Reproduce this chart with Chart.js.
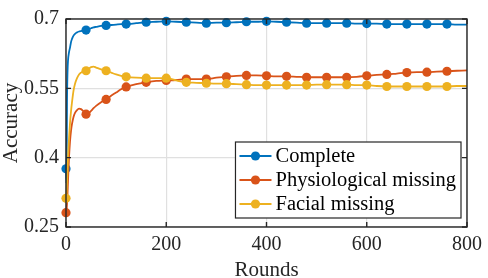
<!DOCTYPE html>
<html>
<head>
<meta charset="utf-8">
<script src="https://cdn.jsdelivr.net/npm/chart.js@4"></script>
<style>
  html, body { margin: 0; padding: 0; background: #fff; }
</style>
</head>
<body>
<canvas id="myChart" width="488" height="278"></canvas>
<script>
const rounds = [0, 1, 2, 3, 4, 6, 8, 10, 12, 15, 18, 22, 26, 30, 35, 40, 45, 50, 55, 60, 70, 80, 90, 100, 110, 120,
  140, 160, 180, 200, 220, 240, 260, 280, 300, 320, 340, 360, 380, 400, 420, 440, 460, 480, 500, 520, 540, 560,
  580, 600, 620, 640, 660, 680, 700, 720, 740, 760, 780, 800];

const complete = [0.376, 0.345, 0.52, 0.585, 0.610, 0.628, 0.638, 0.650, 0.657, 0.664, 0.668, 0.671, 0.673, 0.674, 0.675, 0.676, 0.678, 0.680, 0.682, 0.683, 0.685, 0.686, 0.687, 0.688, 0.689, 0.689,
  0.691, 0.693, 0.694, 0.695, 0.694, 0.693, 0.692, 0.691, 0.692, 0.692, 0.693, 0.694, 0.694, 0.695, 0.694, 0.693, 0.692, 0.691, 0.691, 0.691, 0.691, 0.691,
  0.690, 0.690, 0.690, 0.689, 0.689, 0.689, 0.689, 0.689, 0.689, 0.689, 0.688, 0.688];

const physioMissing = [0.281, 0.285, 0.30, 0.32, 0.35, 0.40, 0.435, 0.458, 0.473, 0.488, 0.497, 0.503, 0.506, 0.505, 0.500, 0.494, 0.496, 0.501, 0.507, 0.512, 0.520, 0.526, 0.534, 0.541, 0.548, 0.553,
  0.559, 0.563, 0.566, 0.567, 0.568, 0.570, 0.570, 0.570, 0.573, 0.575, 0.577, 0.578, 0.578, 0.577, 0.576, 0.576, 0.575, 0.574, 0.574, 0.574, 0.574, 0.574,
  0.575, 0.577, 0.579, 0.580, 0.582, 0.584, 0.585, 0.585, 0.586, 0.587, 0.588, 0.589];

const facialMissing = [0.312, 0.32, 0.345, 0.37, 0.40, 0.44, 0.475, 0.50, 0.52, 0.545, 0.560, 0.572, 0.580, 0.584, 0.587, 0.588, 0.592, 0.596, 0.597, 0.595, 0.591, 0.588, 0.584, 0.580, 0.577, 0.575,
  0.573, 0.572, 0.572, 0.572, 0.567, 0.563, 0.562, 0.561, 0.560, 0.560, 0.559, 0.558, 0.557, 0.557, 0.557, 0.557, 0.557, 0.557, 0.558, 0.558, 0.558, 0.558,
  0.557, 0.557, 0.555, 0.554, 0.554, 0.554, 0.554, 0.554, 0.554, 0.554, 0.555, 0.555];

const seriesNames = ['Complete', 'Physiological missing', 'Facial missing'];
const seriesColors = ['#0072BD', '#D95319', '#EDB120'];
const xTicks = [0, 200, 400, 600, 800];
const yTicks = [0.25, 0.4, 0.55, 0.7];

Chart.defaults.font.family = "'Liberation Serif', 'DejaVu Serif', serif";
Chart.defaults.color = '#262626';

function points(values) {
  return rounds.map((r, i) => ({ x: r, y: values[i] }));
}

// marker on every 40th round, like the figure
const markerRadius = ctx => (ctx.raw && ctx.raw.x % 40 === 0 && ctx.raw.x < 800 ? 4.6 : 0);

const boxPlugin = {
  id: 'box',
  afterDatasetsDraw(chart) {
    const { ctx, chartArea: a, scales } = chart;
    ctx.save();
    ctx.strokeStyle = '#262626';
    ctx.lineWidth = 1.4;
    ctx.strokeRect(a.left, a.top, a.right - a.left, a.bottom - a.top);
    ctx.beginPath();
    xTicks.forEach(v => {
      const px = scales.x.getPixelForValue(v);
      ctx.moveTo(px, a.bottom); ctx.lineTo(px, a.bottom - 5);
      ctx.moveTo(px, a.top); ctx.lineTo(px, a.top + 5);
    });
    yTicks.forEach(v => {
      const py = scales.y.getPixelForValue(v);
      ctx.moveTo(a.left, py); ctx.lineTo(a.left + 5, py);
      ctx.moveTo(a.right, py); ctx.lineTo(a.right - 5, py);
    });
    ctx.stroke();

    // legend box in the lower right corner
    ctx.font = "20.5px 'Liberation Serif'";
    const textW = Math.max(...seriesNames.map(s => ctx.measureText(s).width));
    const w = 40 + textW + 5;
    const rowH = 24;
    const h = rowH * seriesNames.length + 4;
    const right = a.right - 6;
    const bottom = a.bottom - 9;
    const left = right - w;
    const top = bottom - h;
    ctx.fillStyle = '#fff';
    ctx.fillRect(left, top, w, h);
    ctx.lineWidth = 1.2;
    ctx.strokeStyle = '#262626';
    ctx.strokeRect(left, top, w, h);
    seriesNames.forEach((name, i) => {
      const y = top + 2 + rowH * i + rowH / 2;
      ctx.strokeStyle = seriesColors[i];
      ctx.lineWidth = 1.8;
      ctx.beginPath();
      ctx.moveTo(left + 4, y); ctx.lineTo(left + 36, y);
      ctx.stroke();
      ctx.fillStyle = seriesColors[i];
      ctx.beginPath();
      ctx.arc(left + 20, y, 4.6, 0, Math.PI * 2);
      ctx.fill();
      ctx.fillStyle = '#000';
      ctx.textBaseline = 'middle';
      ctx.textAlign = 'left';
      ctx.fillText(name, left + 40, y + 1);
    });
    ctx.restore();
  }
};

const ctx = document.getElementById('myChart');
new Chart(ctx, {
  type: 'line',
  data: {
    datasets: [complete, physioMissing, facialMissing].map((vals, i) => ({
      label: seriesNames[i],
      data: points(vals),
      borderColor: seriesColors[i],
      backgroundColor: seriesColors[i],
      borderWidth: 1.8,
      pointRadius: markerRadius,
      pointBorderWidth: 0,
      cubicInterpolationMode: 'monotone',
      clip: false,
      order: 3 - i
    }))
  },
  options: {
    responsive: false,
    animation: false,
    devicePixelRatio: 1,
    layout: { padding: { top: 8, right: 17, left: 0, bottom: 0 } },
    plugins: { legend: { display: false }, tooltip: { enabled: false } },
    scales: {
      x: {
        type: 'linear',
        min: 0, max: 800,
        afterBuildTicks: s => { s.ticks = xTicks.map(v => ({ value: v })); },
        afterFit: s => { s.height = 51; },
        grid: { color: '#e0e0e0', lineWidth: 1.2, drawTicks: false },
        border: { display: false },
        ticks: { padding: 6, font: { size: 20 }, color: '#262626', maxRotation: 0 },
        title: { display: true, text: 'Rounds', font: { size: 21 }, color: '#262626', padding: { top: 0, bottom: -5 } }
      },
      y: {
        min: 0.25, max: 0.7,
        afterBuildTicks: s => { s.ticks = yTicks.map(v => ({ value: v })); },
        afterFit: s => { s.width = 66; },
        grid: { color: '#e0e0e0', lineWidth: 1.2, drawTicks: false },
        border: { display: false },
        ticks: { padding: 7, font: { size: 20 }, color: '#262626', callback: v => String(+v.toFixed(2)) },
        title: { display: true, text: 'Accuracy', font: { size: 21 }, color: '#262626', padding: { top: -1, bottom: 0 } }
      }
    }
  },
  plugins: [boxPlugin]
});
</script>
</body>
</html>
